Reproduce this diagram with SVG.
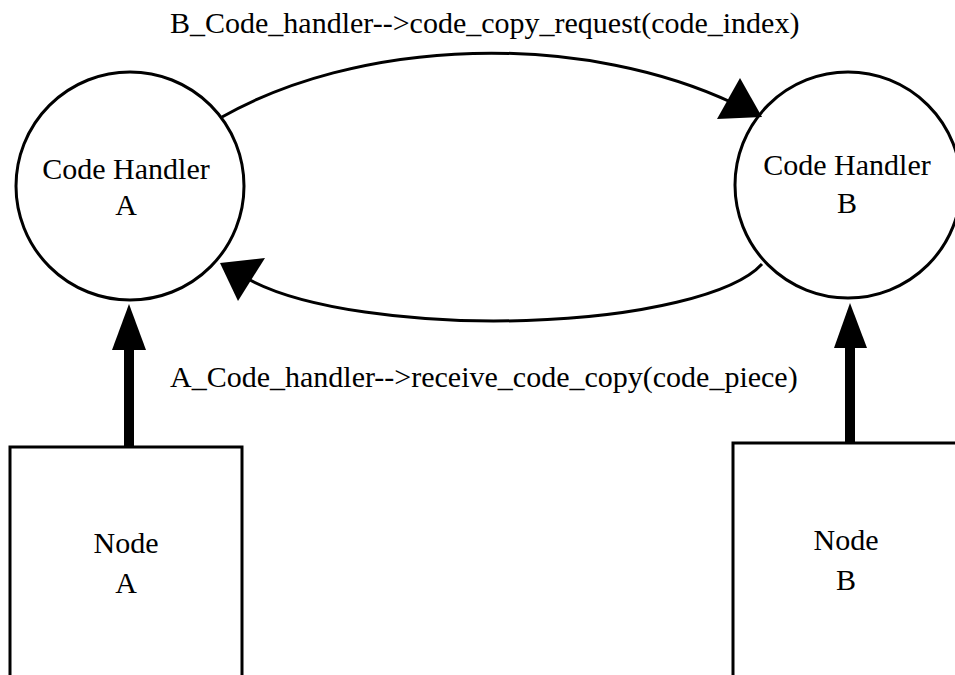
<svg xmlns="http://www.w3.org/2000/svg" width="955" height="675" viewBox="0 0 955 675">
  <style>
    .shape { fill: #ffffff; stroke: #000000; stroke-width: 3; }
    .wire { fill: none; stroke: #000000; stroke-width: 3; }
    .thick { fill: none; stroke: #000000; stroke-width: 10; }
    .head { fill: #000000; stroke: none; }
    .mid { text-anchor: middle; }
  </style>
  <rect width="955" height="675" fill="#ffffff"/>

  <g font-family="Liberation Serif, DejaVu Serif, Times New Roman, Times, serif" font-size="30" fill="#000000">
    <!-- Code handler A -->
    <g id="handler-a">
      <circle class="shape" cx="130" cy="186" r="114"/>
      <text class="mid" x="126" y="179">Code Handler</text>
      <text class="mid" x="126" y="215">A</text>
    </g>

    <!-- Code handler B -->
    <g id="handler-b">
      <circle class="shape" cx="848" cy="185" r="113"/>
      <text class="mid" x="847" y="175">Code Handler</text>
      <text class="mid" x="847" y="213">B</text>
    </g>

    <!-- Node A -->
    <g id="node-a">
      <rect class="shape" x="10" y="447" width="232" height="260"/>
      <text class="mid" x="126" y="553">Node</text>
      <text class="mid" x="126" y="593">A</text>
    </g>

    <!-- Node B -->
    <g id="node-b">
      <rect class="shape" x="733" y="443" width="260" height="260"/>
      <text class="mid" x="846" y="550">Node</text>
      <text class="mid" x="846" y="590">B</text>
    </g>

    <!-- Connectors -->
    <g id="connectors">
      <!-- request: handler A to handler B -->
      <path class="wire" d="M222,117 A387,227 0 0,1 733,103"/>
      <polygon class="head" points="762,117 740,78 717,119"/>
      <!-- reply: handler B to handler A -->
      <path class="wire" d="M762,264 A275,75 0 0,1 250,280"/>
      <polygon class="head" points="220,263 265,258 238,301"/>
      <!-- node A to handler A -->
      <line class="thick" x1="129" y1="447" x2="129" y2="346"/>
      <polygon class="head" points="129,304 112,350 146,350"/>
      <!-- node B to handler B -->
      <line class="thick" x1="850" y1="443" x2="850" y2="344"/>
      <polygon class="head" points="850,303 834,348 867,348"/>
    </g>

    <!-- Message labels -->
    <g id="labels">
      <text x="170" y="33">B_Code_handler--&gt;code_copy_request(code_index)</text>
      <text x="170" y="387">A_Code_handler--&gt;receive_code_copy(code_piece)</text>
    </g>
  </g>
</svg>
